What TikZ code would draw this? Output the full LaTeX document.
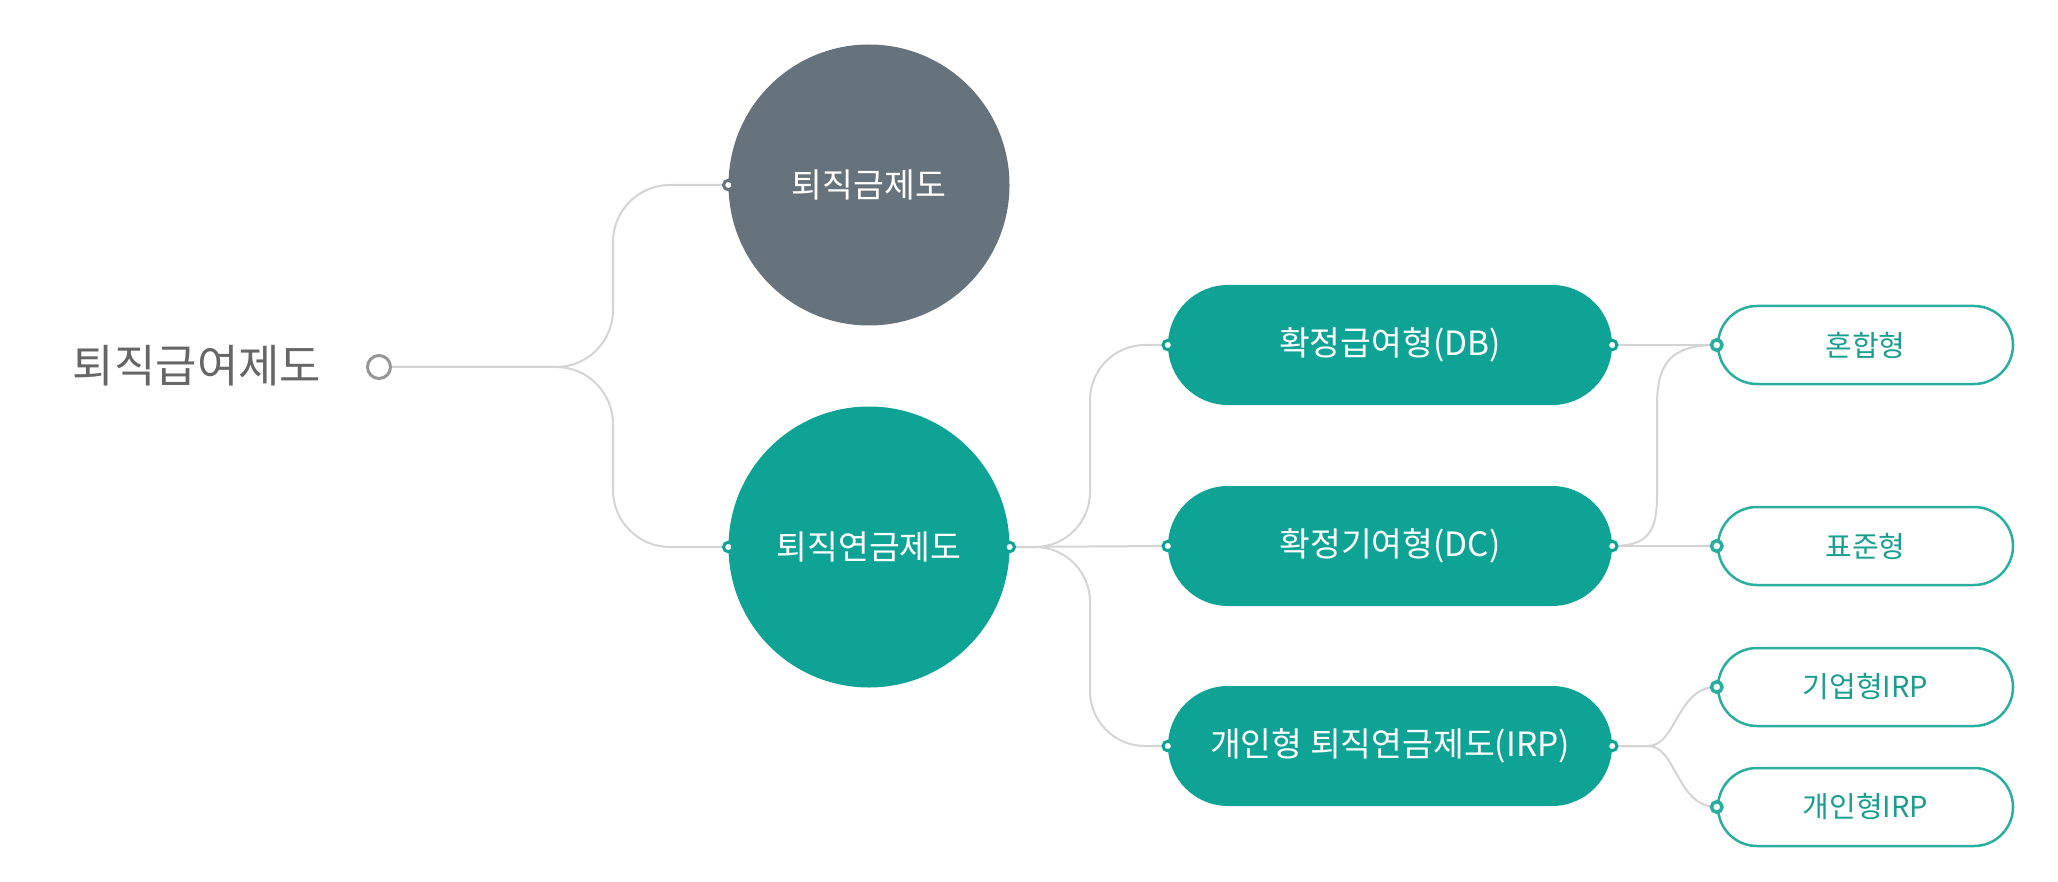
\documentclass[tikz,border=0pt]{standalone}
\usepackage{fontspec}
\setmainfont{Noto Sans CJK KR}
\definecolor{tealA}{RGB}{15,163,150}
\definecolor{tealB}{RGB}{42,174,160}
\definecolor{tealT}{RGB}{26,158,144}
\definecolor{slate}{RGB}{103,115,124}
\definecolor{conncol}{RGB}{212,212,212}
\definecolor{rootgray}{RGB}{102,102,102}
\definecolor{rootring}{RGB}{150,150,150}
\begin{document}
\begin{tikzpicture}[x=1pt,y=-1pt,
  roottext/.style={text=rootgray, font=\fontsize{45}{52}\selectfont, inner sep=0pt},
  rootdot/.style={circle, draw=rootring, fill=white, line width=3pt, minimum size=23pt, inner sep=0pt},
  bigcirc/.style={circle, minimum size=281pt, inner sep=0pt, text=white, font=\fontsize{33.5}{38}\selectfont},
  pill/.style={rectangle, rounded corners=60pt, fill=tealA, minimum width=444pt, minimum height=120pt, inner sep=0pt, text=white, font=\fontsize{33.5}{38}\selectfont},
  opill/.style={rectangle, rounded corners=39pt, draw=tealB, line width=2.5pt, fill=white, minimum width=295pt, minimum height=78pt, inner sep=0pt, text=tealT, font=\fontsize{29}{33}\selectfont},
  conn/.style={draw=conncol, line width=2pt},
  sdot/.style={circle, draw=#1, fill=white, inner sep=0pt, minimum size=9.5pt, line width=3pt},
  odot/.style={circle, draw=tealB, fill=white, inner sep=0pt, minimum size=10.5pt, line width=3.5pt}
]
\useasboundingbox (0,0) rectangle (2058,882);

% nodes
\node[roottext] (title) at (197,366) {퇴직급여제도};
\node[rootdot] (rd) at (379,367) {};
\node[bigcirc, fill=slate] (g) at (869,185) {퇴직금제도};
\node[bigcirc, fill=tealA] (t) at (869,547) {퇴직연금제도};
\node[pill] (db) at (1390,345) {확정급여형(DB)};
\node[pill] (dc) at (1390,546) {확정기여형(DC)};
\node[pill] (irp) at (1390,746) {개인형 퇴직연금제도(IRP)};
\node[opill] (mix) at (1865.5,345) {혼합형};
\node[opill] (std) at (1865.5,546) {표준형};
\node[opill] (ent) at (1865.5,687) {기업형IRP};
\node[opill] (ind) at (1865.5,807) {개인형IRP};

% connectors
\draw[conn, rounded corners=57pt] (rd.east) -| (613,185) -- (g.west);
\draw[conn, rounded corners=57pt] (rd.east) -| (613,547) -- (t.west);
\draw[conn, rounded corners=55pt] (t.east) -| (1090,345) -- (db.west);
\draw[conn] (t.east) -- (dc.west);
\draw[conn, rounded corners=55pt] (t.east) -| (1090,746) -- (irp.west);
\draw[conn] (db.east) -- (mix.west);
\draw[conn] (dc.east) -- (std.west);
\draw[conn] (dc.east) .. controls (1648,546) and (1657,532) .. (1657,495) -- (1657,405) .. controls (1657,362) and (1672,345) .. (mix.west);
\draw[conn] (irp.east) -- ++(36,0) .. controls +(28,0) and +(-40,0) .. (ent.west);
\draw[conn] (irp.east) -- ++(36,0) .. controls +(28,0) and +(-40,0) .. (ind.west);

% connector dots
\node[sdot=slate] (gd) at (g.west) {};
\node[sdot=tealA] (td1) at (t.west) {};
\node[sdot=tealA] (td2) at (t.east) {};
\node[sdot=tealA] (dbl) at (db.west) {};
\node[sdot=tealA] (dbr) at (db.east) {};
\node[sdot=tealA] (dcl) at (dc.west) {};
\node[sdot=tealA] (dcr) at (dc.east) {};
\node[sdot=tealA] (irpl) at (irp.west) {};
\node[sdot=tealA] (irpr) at (irp.east) {};
\node[odot] (mixd) at (mix.west) {};
\node[odot] (stdd) at (std.west) {};
\node[odot] (entd) at (ent.west) {};
\node[odot] (indd) at (ind.west) {};
\end{tikzpicture}
\end{document}
